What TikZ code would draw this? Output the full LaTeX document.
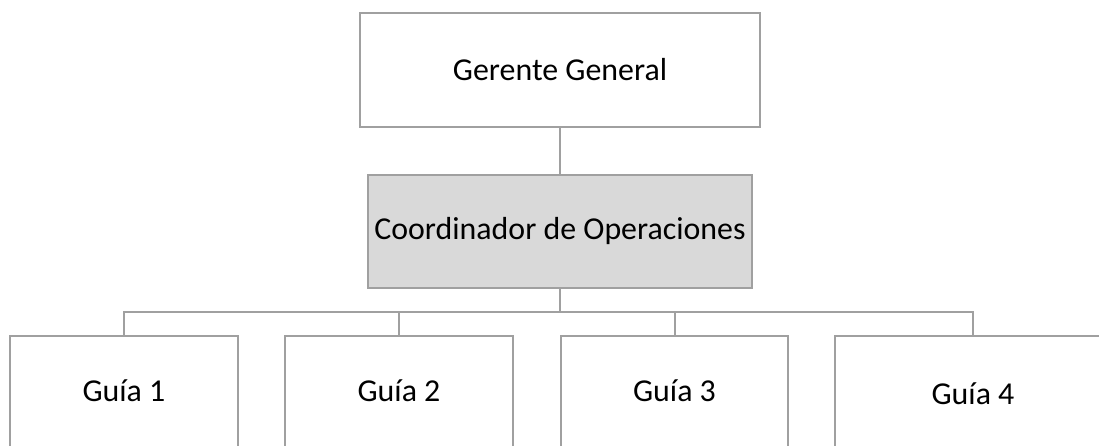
\documentclass[tikz,border=0pt]{standalone}
\usepackage{fontspec}
\setmainfont{Carlito}
\begin{document}
\begin{tikzpicture}[x=1bp,y=-1bp,
  box/.style={draw=linegray, line width=2bp, minimum height=114bp, inner sep=0pt,
    font=\fontsize{32}{38}\selectfont, anchor=north},
  lbl/.style={font=\fontsize{32}{38}\selectfont, inner sep=0pt},
  conn/.style={draw=linegray, line width=2bp}]
\definecolor{linegray}{HTML}{A0A0A0}
\definecolor{midfill}{HTML}{D9D9D9}
\useasboundingbox (0,0) rectangle (1099,446);
\begin{scope}
\clip (0,0) rectangle (1099,446);
\node[box, fill=white, minimum width=400bp] (gg) at (560,12) {Gerente General};
\node[box, fill=midfill, minimum width=384bp, minimum height=113bp] (co) at (560,174) {Coordinador de Operaciones};
\node[box, minimum width=228bp, minimum height=160bp] (g1) at (124,335) {};
\node[box, minimum width=228bp, minimum height=160bp] (g2) at (399,335) {};
\node[box, minimum width=227bp, minimum height=160bp] (g3) at (674.5,335) {};
\node[box, minimum width=276bp, minimum height=160bp] (g4) at (973,335) {};
\node[lbl] (t1) at (124,391) {Guía 1};
\node[lbl] (t2) at (399,391) {Guía 2};
\node[lbl] (t3) at (674.5,391) {Guía 3};
\node[lbl] (t4) at (973,394) {Guía 4};
\coordinate (bus) at (560,312);
\draw[conn] (gg.south) -- (co.north);
\draw[conn] (co.south) -- (bus);
\draw[conn] (g1.north) |- (bus) -| (g4.north);
\draw[conn] (g2.north) -- (g2.north |- bus);
\draw[conn] (g3.north) -- (g3.north |- bus);
\end{scope}
\end{tikzpicture}
\end{document}
